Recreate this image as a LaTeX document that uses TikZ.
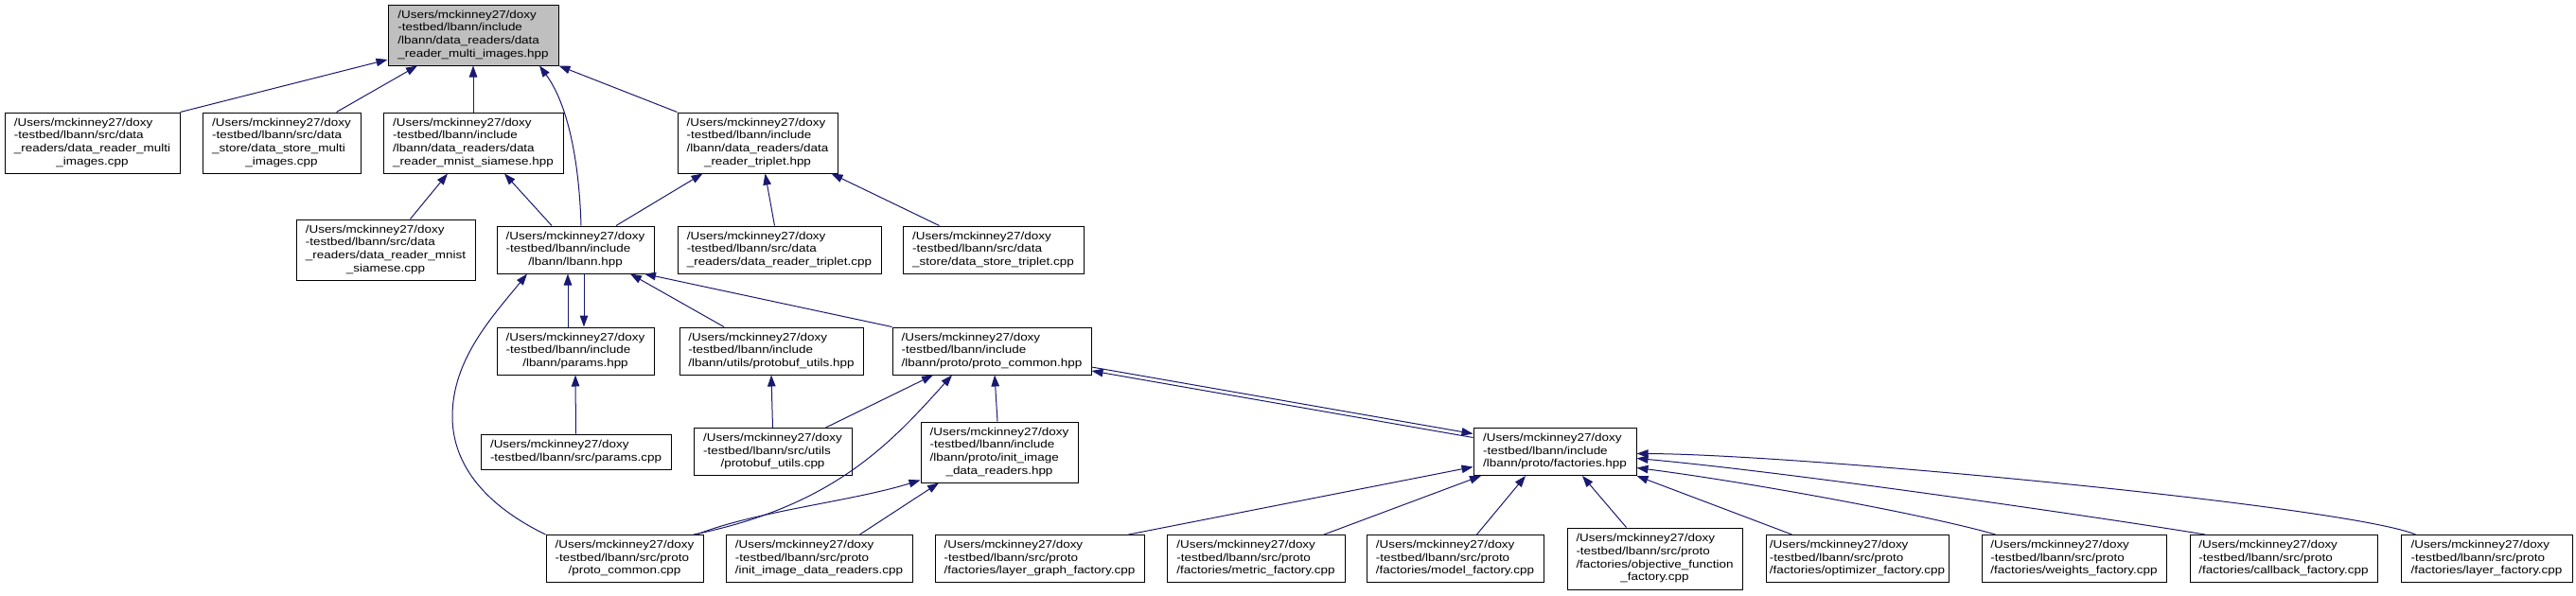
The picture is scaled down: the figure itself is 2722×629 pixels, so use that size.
\documentclass[tikz,border=0pt]{standalone}
\usepackage{fontspec}
\setmainfont[FakeStretch=1.17]{Liberation Sans}
\usepackage{tikz}
\usetikzlibrary{arrows.meta,positioning}

\definecolor{edgeblue}{HTML}{191970}
\definecolor{hdrgray}{HTML}{BFBFBF}
% left-aligned lines, last line centred
\newcommand\flab[2]{\begin{tabular}{@{}l@{}}#1\\\multicolumn{1}{@{}c@{}}{#2}\end{tabular}}

\begin{document}
\begin{tikzpicture}[
        x=1pt, y=-1pt,
        font=\fontsize{11.5}{13.6}\selectfont,
        file/.style={draw, line width=1pt, fill=white, inner sep=0pt, minimum height=50pt},
        tall/.style={file, minimum height=64pt},
        short/.style={file, minimum height=37pt},
        edge/.style={draw=edgeblue, line width=1pt, -{Triangle[length=12pt, width=8.5pt]}}
    ]
        \useasboundingbox (0,0) rectangle (2722,629);

        \node[tall, fill=hdrgray, minimum width=180pt] (top) at (500,37) {\flab{/Users/mckinney27/doxy\\-testbed/lbann/include\\/lbann/data\_readers/data}{\_reader\_multi\_images.hpp}};

        \node[tall, minimum width=185pt] (mrimg) at (97.5,151) {\flab{/Users/mckinney27/doxy\\-testbed/lbann/src/data\\\_readers/data\_reader\_multi}{\_images.cpp}};
        \node[tall, minimum width=167pt] (dsmimg) at (297.5,151) {\flab{/Users/mckinney27/doxy\\-testbed/lbann/src/data\\\_store/data\_store\_multi}{\_images.cpp}};
        \node[tall, minimum width=190pt] (siamhpp) at (500,151) {\flab{/Users/mckinney27/doxy\\-testbed/lbann/include\\/lbann/data\_readers/data}{\_reader\_mnist\_siamese.hpp}};
        \node[tall, minimum width=169pt] (triphpp) at (800.5,151) {\flab{/Users/mckinney27/doxy\\-testbed/lbann/include\\/lbann/data\_readers/data}{\_reader\_triplet.hpp}};

        \node[tall, minimum width=189pt] (siamcpp) at (407.5,264) {\flab{/Users/mckinney27/doxy\\-testbed/lbann/src/data\\\_readers/data\_reader\_mnist}{\_siamese.cpp}};
        \node[file, minimum width=166pt] (lbann) at (608,264) {\flab{/Users/mckinney27/doxy\\-testbed/lbann/include}{/lbann/lbann.hpp}};
        \node[file, minimum width=215pt] (tripcpp) at (823.5,264) {\flab{/Users/mckinney27/doxy\\-testbed/lbann/src/data}{\_readers/data\_reader\_triplet.cpp}};
        \node[file, minimum width=191pt] (dstrip) at (1049.5,264) {\flab{/Users/mckinney27/doxy\\-testbed/lbann/src/data}{\_store/data\_store\_triplet.cpp}};

        \node[file, minimum width=166pt] (params) at (608,371) {\flab{/Users/mckinney27/doxy\\-testbed/lbann/include}{/lbann/params.hpp}};
        \node[file, minimum width=194pt] (pbuthpp) at (815,371) {\flab{/Users/mckinney27/doxy\\-testbed/lbann/include}{/lbann/utils/protobuf\_utils.hpp}};
        \node[file, minimum width=210pt] (pchpp) at (1048,371) {\flab{/Users/mckinney27/doxy\\-testbed/lbann/include}{/lbann/proto/proto\_common.hpp}};

        \node[short, minimum width=201pt] (paramscpp) at (608.5,477.5) {\flab{/Users/mckinney27/doxy}{-testbed/lbann/src/params.cpp}};
        \node[file, minimum width=167pt] (pbutcpp) at (816.5,477.5) {\flab{/Users/mckinney27/doxy\\-testbed/lbann/src/utils}{/protobuf\_utils.cpp}};
        \node[tall, minimum width=166pt] (initimg) at (1056,478) {\flab{/Users/mckinney27/doxy\\-testbed/lbann/include\\/lbann/proto/init\_image}{\_data\_readers.hpp}};
        \node[file, minimum width=172pt] (factories) at (1643,477.5) {\flab{/Users/mckinney27/doxy\\-testbed/lbann/include}{/lbann/proto/factories.hpp}};

        \node[file, minimum width=166pt] (pccpp) at (660,590.5) {\flab{/Users/mckinney27/doxy\\-testbed/lbann/src/proto}{/proto\_common.cpp}};
        \node[file, minimum width=197pt] (initcpp) at (865.5,590.5) {\flab{/Users/mckinney27/doxy\\-testbed/lbann/src/proto}{/init\_image\_data\_readers.cpp}};
        \node[file, minimum width=221pt] (lgf) at (1098.5,590.5) {\flab{/Users/mckinney27/doxy\\-testbed/lbann/src/proto}{/factories/layer\_graph\_factory.cpp}};
        \node[file, minimum width=188pt] (metric) at (1327,590.5) {\flab{/Users/mckinney27/doxy\\-testbed/lbann/src/proto}{/factories/metric\_factory.cpp}};
        \node[file, minimum width=187pt] (model) at (1537.5,590.5) {\flab{/Users/mckinney27/doxy\\-testbed/lbann/src/proto}{/factories/model\_factory.cpp}};
        \node[tall, minimum width=185pt, minimum height=65pt] (objfn) at (1748.5,590.5) {\flab{/Users/mckinney27/doxy\\-testbed/lbann/src/proto\\/factories/objective\_function}{\_factory.cpp}};
        \node[file, minimum width=193pt] (optim) at (1962.5,590.5) {\flab{/Users/mckinney27/doxy\\-testbed/lbann/src/proto}{/factories/optimizer\_factory.cpp}};
        \node[file, minimum width=195pt] (weights) at (2191.5,590.5) {\flab{/Users/mckinney27/doxy\\-testbed/lbann/src/proto}{/factories/weights\_factory.cpp}};
        \node[file, minimum width=198pt] (callback) at (2413,590.5) {\flab{/Users/mckinney27/doxy\\-testbed/lbann/src/proto}{/factories/callback\_factory.cpp}};
        \node[file, minimum width=181pt] (layerf) at (2627.5,590.5) {\flab{/Users/mckinney27/doxy\\-testbed/lbann/src/proto}{/factories/layer\_factory.cpp}};

        \draw[edge] (mrimg.north east) -- ([yshift=-26pt]top.west);
        \draw[edge] ([xshift=58pt]dsmimg.north) -- ([xshift=-59pt]top.south);
        \draw[edge] (siamhpp.north) -- (top.south);
        \draw[edge] (triphpp.north west) -- (top.south east);
        \draw[edge] ([xshift=6pt]lbann.north) .. controls (612,170) and (600,110) .. ([xshift=70pt]top.south);

        \draw[edge] ([xshift=26pt]siamcpp.north) -- ([xshift=-27pt]siamhpp.south);
        \draw[edge] ([xshift=-25pt]lbann.north) -- ([xshift=33pt]siamhpp.south);
        \draw[edge] ([xshift=43pt]lbann.north) -- ([xshift=-58pt]triphpp.south);
        \draw[edge] ([xshift=-5pt]tripcpp.north) -- ([xshift=8pt]triphpp.south);
        \draw[edge] ([xshift=-57pt]dstrip.north) -- ([xshift=78pt]triphpp.south);

        \draw[edge] ([xshift=-8pt]params.north) -- ([xshift=-8pt]lbann.south);
        \draw[edge] ([xshift=9pt]lbann.south) -- ([xshift=9pt]params.north);
        \draw[edge] ([xshift=-50pt]pbuthpp.north) -- ([xshift=58pt]lbann.south);
        \draw[edge] (pchpp.north west) -- ([xshift=73pt]lbann.south);
        \draw[edge] (pccpp.north west) .. controls (525,540) and (478,500) .. (478,440)
            .. controls (478,380) and (520,335) .. ([xshift=-51pt]lbann.south);

        \draw[edge] (paramscpp.north) -- (params.south);
        \draw[edge] (pbutcpp.north) -- (pbuthpp.south);
        \draw[edge] ([xshift=56pt]pbutcpp.north) -- ([xshift=-62pt]pchpp.south);
        \draw[edge] ([xshift=73pt]pccpp.north) .. controls (880,535) and (940,470) .. ([xshift=-42pt]pchpp.south);
        \draw[edge] ([xshift=76pt]pccpp.north) .. controls (800,540) and (900,530) .. ([yshift=3pt]initimg.south west);
        \draw[edge] ([xshift=-2pt]initimg.north) -- ([xshift=3pt]pchpp.south);
        \draw[edge] ([xshift=43pt]initcpp.north) -- ([xshift=-64pt]initimg.south);

        \draw[edge] ([yshift=-17pt]pchpp.east) -- ([yshift=19pt]factories.west);
        \draw[edge] ([yshift=15pt]factories.west) -- ([yshift=-21pt]pchpp.east);

        \draw[edge] ([xshift=94pt]lgf.north) -- ([yshift=-16pt]factories.west);
        \draw[edge] ([xshift=72pt]metric.north) -- ([xshift=-78pt]factories.south);
        \draw[edge] ([xshift=23pt]model.north) -- ([xshift=-31pt]factories.south);
        \draw[edge] ([xshift=-30pt]objfn.north) -- ([xshift=29pt]factories.south);
        \draw[edge] ([xshift=-69pt]optim.north) -- (factories.south east);
        \draw[edge] ([xshift=-83pt]weights.north) .. controls (2040,545) and (1850,510) .. ([yshift=-17pt]factories.east);
        \draw[edge] ([xshift=-83pt]callback.north) .. controls (2240,550) and (1900,500) .. ([yshift=-7pt]factories.east);
        \draw[edge] ([xshift=-75pt]layerf.north) .. controls (2480,535) and (1900,480) .. ([yshift=-2pt]factories.east);
    \end{tikzpicture}
\end{document}
